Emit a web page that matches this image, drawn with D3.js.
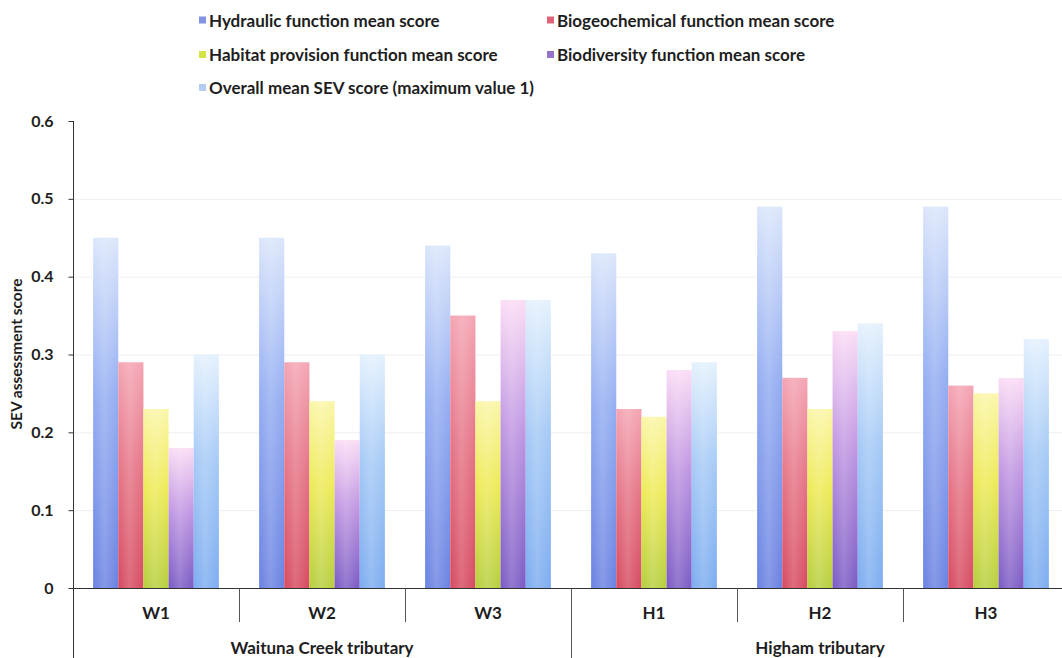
<!DOCTYPE html>
<html>
<head>
<meta charset="utf-8">
<script src="https://cdn.jsdelivr.net/npm/d3@7"></script>
<style>
  html, body { margin: 0; padding: 0; background: #fff; }
  svg { display: block; }
  text { font-family: Lato, "Open Sans", sans-serif; fill: #1e1e1e; font-weight: 700; }
</style>
</head>
<body>
<svg id="chart" width="1062" height="658"></svg>
<script>
// Sites and their tributary groups
const sites = ["W1", "W2", "W3", "H1", "H2", "H3"];
const groups = [
  { name: "Waituna Creek tributary", sites: ["W1", "W2", "W3"] },
  { name: "Higham tributary", sites: ["H1", "H2", "H3"] }
];

// Series names (legend order)
const seriesNames = [
  "Hydraulic function mean score",
  "Biogeochemical function mean score",
  "Habitat provision function mean score",
  "Biodiversity function mean score",
  "Overall mean SEV score (maximum value 1)"
];

// Mean scores per site (W1, W2, W3, H1, H2, H3)
const hydraulic      = [0.45, 0.45, 0.44, 0.43, 0.49, 0.49];
const biogeochemical = [0.29, 0.29, 0.35, 0.23, 0.27, 0.26];
const habitat        = [0.23, 0.24, 0.24, 0.22, 0.23, 0.25];
const biodiversity   = [0.18, 0.19, 0.37, 0.28, 0.33, 0.27];
const overall        = [0.30, 0.30, 0.37, 0.29, 0.34, 0.32];

const yTicks = [0, 0.1, 0.2, 0.3, 0.4, 0.5, 0.6];
const yTickLabels = ["0", "0.1", "0.2", "0.3", "0.4", "0.5", "0.6"];

const seriesValues = [hydraulic, biogeochemical, habitat, biodiversity, overall];

// Gradient stops: bottom colour, middle colour, top colour
const palettes = [
  ["#6a82e2", "#94aef2", "#dbe6fb"],
  ["#d64a60", "#e67688", "#f4a4b2"],
  ["#b6ce3c", "#eeea56", "#fbf6a8"],
  ["#7a5ac4", "#c096e2", "#fbdcf5"],
  ["#7cacf0", "#a6caf6", "#e4f1fd"]
];
const legendColors = ["#8494e4", "#e06478", "#d4e444", "#9474cc", "#b4ccf2"];

const svg = d3.select("#chart");
const defs = svg.append("defs");

palettes.forEach((p, i) => {
  const g = defs.append("linearGradient")
    .attr("id", "grad" + i)
    .attr("x1", 0).attr("y1", 1).attr("x2", 0).attr("y2", 0);
  g.append("stop").attr("offset", "0%").attr("stop-color", p[0]);
  g.append("stop").attr("offset", "55%").attr("stop-color", p[1]);
  g.append("stop").attr("offset", "100%").attr("stop-color", p[2]);
});
// soft glassy sheen across each bar
const sheen = defs.append("linearGradient")
  .attr("id", "sheen").attr("x1", 0).attr("y1", 0).attr("x2", 1).attr("y2", 0);
sheen.append("stop").attr("offset", "0%").attr("stop-color", "#fff").attr("stop-opacity", 0.0);
sheen.append("stop").attr("offset", "45%").attr("stop-color", "#fff").attr("stop-opacity", 0.18);
sheen.append("stop").attr("offset", "100%").attr("stop-color", "#fff").attr("stop-opacity", 0.0);

const plotLeft = 73, plotTop = 121, plotBottom = 588;
const band = 166;
const plotRight = plotLeft + band * sites.length;

const x0 = d3.scaleBand().domain(sites).range([plotLeft, plotRight]).padding(0);
const x1 = d3.scaleBand().domain(d3.range(seriesNames.length))
  .range([0, x0.bandwidth()]).paddingInner(0).paddingOuter(0.8);
const y = d3.scaleLinear().domain([0, 0.6]).range([plotBottom, plotTop]);

// faint horizontal gridlines
svg.append("g").selectAll("line")
  .data(yTicks.filter(t => t > 0 && t < 0.6))
  .join("line")
  .attr("x1", plotLeft).attr("x2", plotRight)
  .attr("y1", d => y(d) + 0.5).attr("y2", d => y(d) + 0.5)
  .attr("stroke", "#efefef").attr("stroke-width", 1);

// bars
const siteG = svg.append("g").selectAll("g")
  .data(sites)
  .join("g")
  .attr("transform", d => `translate(${x0(d)},0)`);

siteG.each(function(site, si) {
  const g = d3.select(this);
  seriesValues.forEach((vals, k) => {
    const v = vals[si];
    g.append("rect")
      .attr("x", x1(k)).attr("width", x1.bandwidth())
      .attr("y", y(v)).attr("height", y(0) - y(v))
      .attr("fill", `url(#grad${k})`);
    g.append("rect")
      .attr("x", x1(k)).attr("width", x1.bandwidth())
      .attr("y", y(v)).attr("height", y(0) - y(v))
      .attr("fill", "url(#sheen)");
  });
});

// y axis
const yAxis = d3.axisLeft(y)
  .tickValues(yTicks)
  .tickFormat((d, i) => yTickLabels[i])
  .tickSize(5)
  .tickPadding(15);
const yg = svg.append("g")
  .attr("transform", `translate(${plotLeft + 0.5},0)`)
  .call(yAxis);
yg.select(".domain").remove();
yg.selectAll("line").attr("stroke", "#333");
yg.selectAll("text")
  .style("font-size", "16px").style("font-weight", "700")
  .style("font-family", "Lato, sans-serif").attr("fill", "#2a2a2a");
svg.append("line")
  .attr("x1", plotLeft + 0.5).attr("x2", plotLeft + 0.5)
  .attr("y1", plotTop).attr("y2", 658)
  .attr("stroke", "#333");

// x axis baseline
svg.append("line")
  .attr("x1", plotLeft).attr("x2", plotRight)
  .attr("y1", plotBottom + 0.5).attr("y2", plotBottom + 0.5)
  .attr("stroke", "#333");

// site dividers (short) and group divider (long)
const groupStarts = groups.map(g => x0(g.sites[0]));
sites.forEach((s, i) => {
  if (i === 0) return;
  const xp = Math.round(x0(s)) + 0.5;
  const isGroup = groupStarts.includes(x0(s));
  svg.append("line")
    .attr("x1", xp).attr("x2", xp)
    .attr("y1", plotBottom).attr("y2", isGroup ? 658 : 622)
    .attr("stroke", "#555");
});

// site labels
svg.append("g").selectAll("text")
  .data(sites)
  .join("text")
  .attr("x", d => x0(d) + x0.bandwidth() / 2)
  .attr("y", 619)
  .attr("text-anchor", "middle")
  .style("font-size", "17px")
  .text(d => d);

// group labels
svg.append("g").selectAll("text")
  .data(groups)
  .join("text")
  .attr("x", g => (x0(g.sites[0]) + x0(g.sites[g.sites.length - 1]) + x0.bandwidth()) / 2)
  .attr("y", 654)
  .attr("text-anchor", "middle")
  .style("font-size", "17px")
  .text(g => g.name);

// y axis title
svg.append("text")
  .attr("transform", `translate(22,354) rotate(-90)`)
  .attr("text-anchor", "middle")
  .style("font-size", "15.5px")
  .text("SEV assessment score");

// legend
const legendPos = [
  [199, 26.5], [547, 26.5],
  [199, 61], [547, 61],
  [199, 94]
];
const lg = svg.append("g").selectAll("g")
  .data(seriesNames)
  .join("g")
  .attr("transform", (d, i) => `translate(${legendPos[i][0]},${legendPos[i][1]})`);
lg.append("rect")
  .attr("x", 0).attr("y", -10).attr("width", 7).attr("height", 7)
  .attr("fill", (d, i) => legendColors[i]);
lg.append("text")
  .attr("x", 10).attr("y", 0)
  .style("font-size", "17px")
  .text(d => d);
</script>
</body>
</html>
